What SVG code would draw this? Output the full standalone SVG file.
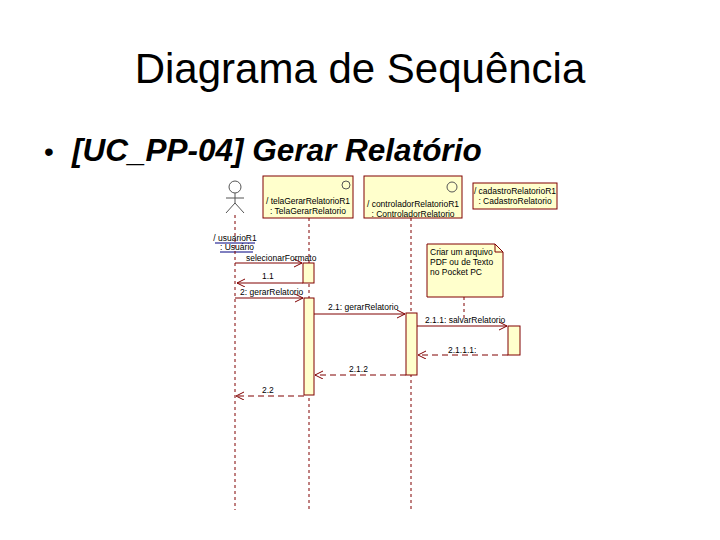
<svg xmlns="http://www.w3.org/2000/svg" width="720" height="540" viewBox="0 0 720 540">
<style>
text{font-family:"Liberation Sans",Arial,sans-serif}
.s{font-size:8.5px;fill:#000}
.box{fill:#ffffcc;stroke:#800000;stroke-width:1}
.act{fill:#ffffcc;stroke:#800000;stroke-width:1}
.ll{stroke:#800000;stroke-dasharray:3,3;fill:none}
.m{stroke:#800000;fill:none;marker-end:url(#a)}
.r{stroke:#800000;fill:none;stroke-dasharray:6,4;marker-end:url(#a)}
.u{stroke:#000080;stroke-width:1}
</style>
<defs><marker id="a" markerWidth="10" markerHeight="10" refX="8" refY="4" orient="auto" markerUnits="userSpaceOnUse"><path d="M0,0 L8,4 L0,8" fill="none" stroke="#800000"/></marker></defs>
<rect width="720" height="540" fill="#fff"/>
<text x="360" y="83" font-size="42" text-anchor="middle">Diagrama de Sequência</text>
<text x="44" y="161" font-size="28">•</text>
<text x="72" y="161" font-size="31.5" font-weight="bold" font-style="italic">[UC_PP-04] Gerar Relatório</text>
<g id="usuario">
<circle cx="235" cy="187" r="6" fill="none" stroke="#555"/>
<path d="M235 193 V203 M226 198 H244 M235 203 L226 213 M235 203 L244 213" stroke="#555" fill="none"/>
<text class="s" x="235" y="241" text-anchor="middle">/ usuarioR1</text>
<text class="s" x="237" y="250" text-anchor="middle">: Usuário</text>
<line class="u" x1="215" y1="243" x2="255" y2="243"/><line class="u" x1="220" y1="252" x2="253" y2="252"/>
</g>
<g id="tela">
<rect class="box" x="263" y="176" width="90" height="42"/>
<circle cx="346" cy="185" r="4" fill="none" stroke="#555"/>
<text class="s" x="308" y="204" text-anchor="middle" textLength="84">/ telaGerarRelatorioR1</text>
<text class="s" x="308" y="214" text-anchor="middle">: TelaGerarRelatorio</text>
</g>
<g id="controlador">
<rect class="box" x="364" y="176" width="98" height="42"/>
<circle cx="452" cy="187" r="5" fill="none" stroke="#555"/>
<text class="s" x="413" y="207" text-anchor="middle">/ controladorRelatorioR1</text>
<text class="s" x="413" y="217" text-anchor="middle">: ControladorRelatorio</text>
</g>
<g id="cadastro">
<rect class="box" x="473" y="183" width="84" height="26"/>
<text class="s" x="515" y="194" text-anchor="middle">/ cadastroRelatorioR1</text>
<text class="s" x="515" y="204" text-anchor="middle">: CadastroRelatorio</text>
</g>
<g id="nota">
<path class="box" d="M427 244 H495 L503 252 V297 H427 Z"/>
<path d="M495 244 V252 H503" fill="none" stroke="#800000"/>
<text class="s" x="430" y="255">Criar um arquivo</text>
<text class="s" x="430" y="265">PDF ou de Texto</text>
<text class="s" x="430" y="275">no Pocket PC</text>
</g>
<g id="conectores">
<line class="ll" x1="235" y1="215" x2="235" y2="510"/>
<line class="ll" x1="309" y1="218" x2="309" y2="510"/>
<line class="ll" x1="411" y1="218" x2="411" y2="510"/>
<line class="ll" x1="464" y1="297" x2="464" y2="321"/>
<rect class="act" x="303" y="263" width="11" height="20"/>
<rect class="act" x="304" y="298" width="10" height="97"/>
<rect class="act" x="406" y="313" width="11" height="62"/>
<rect class="act" x="508" y="326" width="12" height="29"/>
<line class="m" x1="235" y1="263" x2="302" y2="263"/>
<text class="s" x="246" y="261">selecionarFormato</text>
<line class="m" x1="303" y1="283" x2="237" y2="283"/>
<text class="s" x="262" y="279">1.1</text>
<line class="m" x1="235" y1="298" x2="303" y2="298"/>
<text class="s" x="240" y="295">2: gerarRelatorio</text>
<line class="m" x1="314" y1="314" x2="405" y2="314"/>
<text class="s" x="328" y="310">2.1: gerarRelatorio</text>
<line class="m" x1="417" y1="326" x2="507" y2="326"/>
<text class="s" x="425" y="323">2.1.1: salvarRelatorio</text>
<line class="r" x1="508" y1="355" x2="418" y2="355"/>
<text class="s" x="448" y="353">2.1.1.1:</text>
<line class="r" x1="406" y1="375" x2="315" y2="375"/>
<text class="s" x="349" y="372">2.1.2</text>
<line class="r" x1="304" y1="396" x2="236" y2="396"/>
<text class="s" x="262" y="393">2.2</text>
</g>
</svg>
